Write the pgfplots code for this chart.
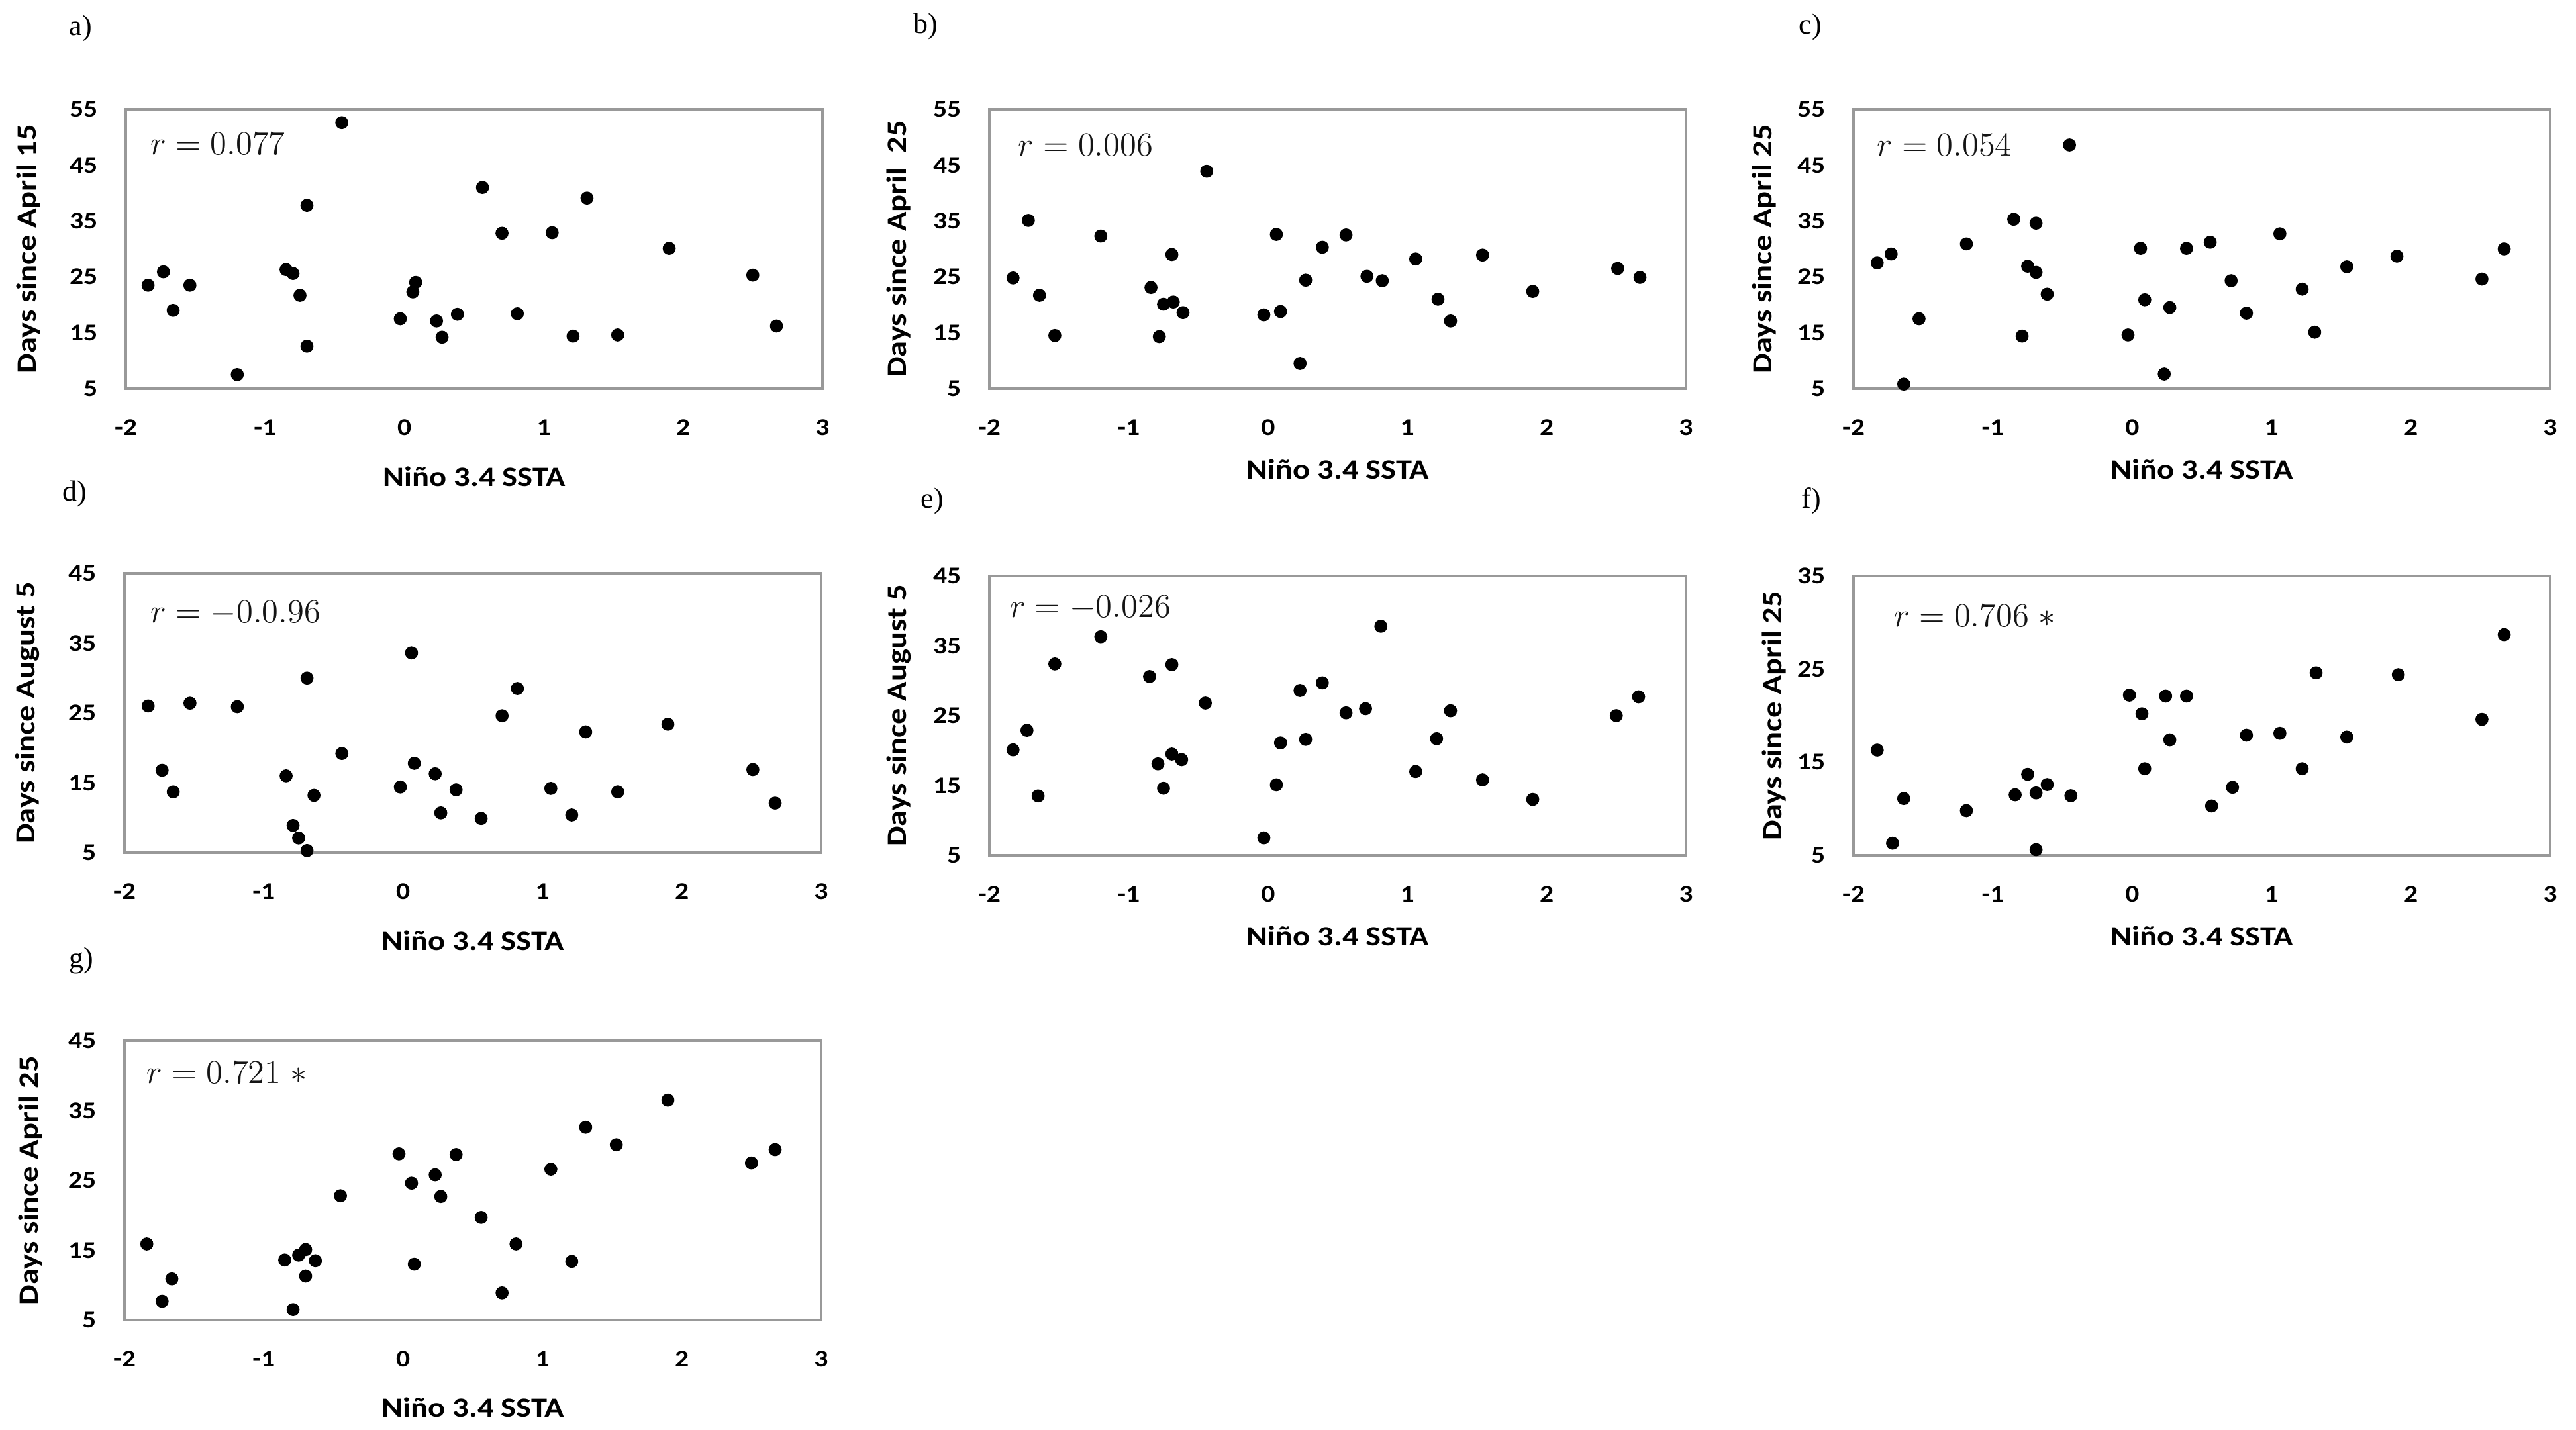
\documentclass[border=0pt]{standalone}
\usepackage{fontspec}
\setmainfont{Liberation Serif}
\newfontfamily\carl[FakeStretch=1.15]{Carlito}
\usepackage{pgfplots}
\pgfplotsset{compat=1.18}

\pgfplotsset{
  panel/.style={
    scale only axis,
    width=10.52cm, height=4.22cm,
    anchor=south west,
    xmin=-2, xmax=3,
    xtick={-2,-1,0,1,2,3},
    xticklabels={{-2},{-1},0,1,2,3},
    tick style={draw=none},
    axis line style={draw=black!40, line width=0.9pt},
    tick label style={font=\carl\bfseries\fontsize{10.3}{12}\selectfont, inner sep=0pt},
    xticklabel style={yshift=-0.46cm},
    yticklabel style={xshift=-0.42cm},
    label style={font=\carl\bfseries\fontsize{12}{14}\selectfont},
    xlabel={Niño 3.4 SSTA},
    clip=false,
  },
  y55/.style={ymin=5, ymax=55, ytick={5,15,25,35,45,55}, yticklabels={5,15,25,35,45,55}},
  y45/.style={ymin=5, ymax=45, ytick={5,15,25,35,45}, yticklabels={5,15,25,35,45}},
  y35/.style={ymin=5, ymax=35, ytick={5,15,25,35}, yticklabels={5,15,25,35}},
  xl/.style={xlabel style={at={(axis description cs:0.5,#1)}, anchor=center}},
  yl/.style={ylabel style={at={(axis description cs:#1,0.5)}, anchor=center}},
  dots/.style={only marks, mark=*, mark size=2.6pt, black, mark options={draw=black, fill=black}},
}
\newcommand{\rnote}[3]{\node[anchor=west, inner sep=0pt, text=black!92, font=\fontsize{14}{16}\selectfont] at (axis description cs:#1,#2) {#3};}

\begin{document}
\begin{tikzpicture}
\path[use as bounding box] (0,0) rectangle (38.9,21.6);

% a)
\begin{axis}[panel, y55, at={(1.90cm,15.73cm)}, xl=-0.315, yl=-0.1397,
  ylabel={Days since April 15}]
\addplot[dots] coordinates {
  (-1.84,23.5) (-1.73,25.9) (-1.66,19.0) (-1.54,23.5) (-1.20,7.5)
  (-0.85,26.3) (-0.80,25.6) (-0.75,21.7) (-0.70,37.8) (-0.70,12.6)
  (-0.45,52.6) (-0.03,17.5) (0.06,22.3) (0.08,24.0) (0.23,17.1)
  (0.27,14.2) (0.38,18.3) (0.56,41.0) (0.70,32.8) (0.81,18.4)
  (1.06,32.9) (1.21,14.4) (1.31,39.1) (1.53,14.6) (1.90,30.1)
  (2.50,25.3) (2.67,16.2)
};
\rnote{0.035}{0.877}{$r = 0.077$}
\end{axis}

% b)
\begin{axis}[panel, y55, at={(14.94cm,15.73cm)}, xl=-0.289, yl=-0.130,
  ylabel={Days since April\ \ 25}]
\addplot[dots] coordinates {
  (-1.83,24.8) (-1.72,35.1) (-1.64,21.7) (-1.53,14.5) (-1.20,32.3)
  (-0.84,23.1) (-0.78,14.3) (-0.75,20.1) (-0.69,29.0) (-0.68,20.5)
  (-0.61,18.6) (-0.44,43.9) (-0.03,18.2) (0.06,32.6) (0.09,18.8)
  (0.23,9.5) (0.27,24.4) (0.39,30.3) (0.56,32.5) (0.71,25.1)
  (0.82,24.3) (1.06,28.2) (1.22,21.0) (1.31,17.1) (1.54,28.9)
  (1.90,22.4) (2.51,26.5) (2.67,24.9)
};
\rnote{0.041}{0.872}{$r = 0.006$}
\end{axis}

% c)
\begin{axis}[panel, y55, at={(27.99cm,15.73cm)}, xl=-0.289, yl=-0.128,
  ylabel={Days since April 25}]
\addplot[dots] coordinates {
  (-1.83,27.5) (-1.73,29.1) (-1.64,5.8) (-1.53,17.5) (-1.19,30.9)
  (-0.85,35.3) (-0.79,14.4) (-0.75,26.9) (-0.69,34.6) (-0.69,25.8)
  (-0.61,21.9) (-0.45,48.6) (-0.03,14.6) (0.06,30.1) (0.09,20.9)
  (0.23,7.6) (0.27,19.5) (0.39,30.1) (0.56,31.2) (0.71,24.3)
  (0.82,18.5) (1.06,32.7) (1.22,22.8) (1.31,15.1) (1.54,26.8)
  (1.90,28.7) (2.51,24.6) (2.67,30.0)
};
\rnote{0.033}{0.872}{$r = 0.054$}
\end{axis}

% d)
\begin{axis}[panel, y45, at={(1.88cm,8.72cm)}, xl=-0.315, yl=-0.139,
  ylabel={Days since August 5}]
\addplot[dots] coordinates {
  (-1.83,26.0) (-1.73,16.8) (-1.65,13.7) (-1.53,26.4) (-1.19,25.9)
  (-0.84,16.0) (-0.79,8.9) (-0.75,7.1) (-0.69,5.3) (-0.69,30.0)
  (-0.64,13.2) (-0.44,19.2) (-0.02,14.4) (0.06,33.6) (0.08,17.8)
  (0.23,16.3) (0.27,10.7) (0.38,14.0) (0.56,9.9) (0.71,24.6)
  (0.82,28.5) (1.06,14.2) (1.21,10.4) (1.31,22.3) (1.54,13.7)
  (1.90,23.4) (2.51,16.9) (2.67,12.1)
};
\rnote{0.037}{0.858}{$r = -0.0.96$}
\end{axis}

% e)
\begin{axis}[panel, y45, at={(14.94cm,8.68cm)}, xl=-0.289, yl=-0.130,
  ylabel={Days since August 5}]
\addplot[dots] coordinates {
  (-1.83,20.1) (-1.73,22.9) (-1.65,13.5) (-1.53,32.4) (-1.20,36.3)
  (-0.85,30.6) (-0.79,18.1) (-0.75,14.6) (-0.69,32.3) (-0.69,19.5)
  (-0.62,18.7) (-0.45,26.8) (-0.03,7.5) (0.06,15.1) (0.09,21.1)
  (0.23,28.6) (0.27,21.6) (0.39,29.7) (0.56,25.4) (0.70,26.0)
  (0.81,37.8) (1.06,17.0) (1.21,21.7) (1.31,25.7) (1.54,15.8)
  (1.90,13.0) (2.50,25.0) (2.66,27.7)
};
\rnote{0.029}{0.886}{$r = -0.026$}
\end{axis}

% f)
\begin{axis}[panel, y35, at={(27.99cm,8.68cm)}, xl=-0.289, yl=-0.114,
  ylabel={Days since April 25}]
\addplot[dots] coordinates {
  (-1.83,16.3) (-1.72,6.3) (-1.64,11.1) (-1.19,9.8) (-0.84,11.5)
  (-0.75,13.7) (-0.69,11.7) (-0.69,5.6) (-0.61,12.6) (-0.44,11.4)
  (-0.02,22.2) (0.07,20.2) (0.09,14.3) (0.24,22.1) (0.27,17.4)
  (0.39,22.1) (0.57,10.3) (0.72,12.3) (0.82,17.9) (1.06,18.1)
  (1.22,14.3) (1.32,24.6) (1.54,17.7) (1.91,24.4) (2.51,19.6)
  (2.67,28.7)
};
\rnote{0.058}{0.858}{$r = 0.706\;{*}$}
\end{axis}

% g)
\begin{axis}[panel, y45, at={(1.88cm,1.66cm)}, xl=-0.313, yl=-0.135,
  ylabel={Days since April 25}]
\addplot[dots] coordinates {
  (-1.84,15.9) (-1.73,7.7) (-1.66,10.9) (-0.85,13.6) (-0.79,6.5)
  (-0.75,14.3) (-0.70,15.1) (-0.70,11.3) (-0.63,13.5) (-0.45,22.8)
  (-0.03,28.8) (0.06,24.6) (0.08,13.0) (0.23,25.8) (0.27,22.7)
  (0.38,28.7) (0.56,19.7) (0.71,8.9) (0.81,15.9) (1.06,26.6)
  (1.21,13.4) (1.31,32.6) (1.53,30.1) (1.90,36.5) (2.50,27.5)
  (2.67,29.4)
};
\rnote{0.031}{0.886}{$r = 0.721\;{*}$}
\end{axis}

% panel letters
\begin{scope}[every node/.style={anchor=west, inner sep=0pt, font=\fontsize{12.5}{14}\selectfont}]
\node at (1.04,21.17) {a)};
\node at (13.79,21.20) {b)};
\node at (27.16,21.19) {c)};
\node at (0.94,14.14) {d)};
\node at (13.90,14.03) {e)};
\node at (27.20,14.03) {f)};
\node at (1.04,7.09) {g)};
\end{scope}
\end{tikzpicture}
\end{document}
